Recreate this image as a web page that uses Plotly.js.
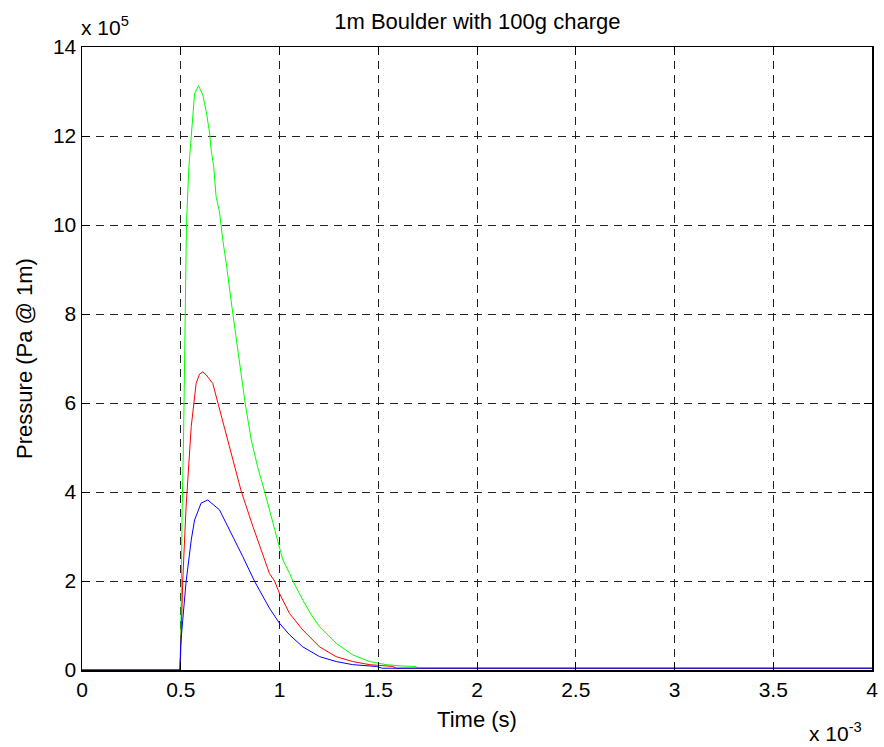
<!DOCTYPE html>
<html>
<head>
<meta charset="utf-8">
<script src="https://cdn.plot.ly/plotly-3.0.1.min.js"></script>
<style>html,body{margin:0;padding:0;background:#fff;}#chart{width:884px;height:747px;}</style>
</head>
<body>
<div id="chart"></div>
<script>
// Time in units of 1e-3 s, pressure in units of 1e5 Pa
const tGreen = [0, 0.495, 0.500, 0.502, 0.507, 0.514, 0.519, 0.529, 0.541, 0.553, 0.570, 0.590, 0.612, 0.629, 0.646, 0.654, 0.667, 0.679, 0.696, 0.713, 0.730, 0.764, 0.789, 0.826, 0.857, 0.890, 0.924, 0.983, 1.017, 1.051, 1.068, 1.118, 1.160, 1.203, 1.287, 1.371, 1.456, 1.540, 1.620, 1.692, 1.700, 4.0];
const pGreen = [0, 0, 0.6, 2.0, 3.6, 5.17, 7.19, 10.04, 11.3, 12.07, 12.95, 13.13, 12.92, 12.55, 12.07, 11.69, 11.31, 10.64, 10.30, 9.66, 9.15, 8.00, 7.19, 6.00, 5.17, 4.55, 4.02, 3.00, 2.47, 2.17, 2.00, 1.57, 1.25, 0.97, 0.60, 0.34, 0.19, 0.12, 0.09, 0.08, 0.04, 0.04];

const tRed = [0, 0.495, 0.499, 0.502, 0.510, 0.527, 0.541, 0.553, 0.578, 0.595, 0.612, 0.629, 0.662, 0.688, 0.738, 0.806, 0.865, 0.949, 0.975, 1.000, 1.051, 1.118, 1.203, 1.287, 1.371, 1.456, 1.574, 1.590, 4.0];
const pRed = [0, 0, 0.3, 0.8, 2.0, 3.67, 4.79, 5.47, 6.44, 6.65, 6.70, 6.63, 6.44, 6.00, 5.17, 4.02, 3.23, 2.17, 2.00, 1.72, 1.27, 0.90, 0.52, 0.30, 0.19, 0.12, 0.08, 0.04, 0.04];

const tBlue = [0, 0.495, 0.497, 0.499, 0.510, 0.527, 0.553, 0.570, 0.603, 0.637, 0.696, 0.764, 0.814, 0.873, 0.949, 1.000, 1.051, 1.118, 1.203, 1.287, 1.371, 1.490, 1.520, 4.0];
const pBlue = [0, 0, 0.05, 0.53, 1.12, 1.98, 2.92, 3.37, 3.75, 3.82, 3.60, 3.00, 2.55, 2.00, 1.39, 1.05, 0.79, 0.52, 0.30, 0.19, 0.12, 0.08, 0.04, 0.04];

const xTicks = [0, 0.5, 1, 1.5, 2, 2.5, 3, 3.5, 4];
const xTickText = ['0', '0.5', '1', '1.5', '2', '2.5', '3', '3.5', '4'];
const yTicks = [0, 2, 4, 6, 8, 10, 12, 14];
const yTickText = ['0', '2', '4', '6', '8', '10', '12', '14'];

const FONT = 'Liberation Sans, Arial, Helvetica, sans-serif';

const traces = [
  {x: tGreen, y: pGreen, mode: 'lines', line: {color: '#00ff00', width: 1}, name: 'green'},
  {x: tRed, y: pRed, mode: 'lines', line: {color: '#ff0000', width: 1}, name: 'red'},
  {x: tBlue, y: pBlue, mode: 'lines', line: {color: '#0000ff', width: 1}, name: 'blue'}
];

const axisCommon = {
  showline: true, linecolor: '#000', linewidth: 1.5, mirror: 'ticks',
  ticks: 'inside', ticklen: 8, tickcolor: '#000', tickwidth: 1,
  showgrid: true, gridcolor: '#222', gridwidth: 1, griddash: '8px,6px',
  zeroline: false, tickfont: {family: FONT, size: 21, color: '#000'}
};

const layout = {
  width: 884, height: 747,
  margin: {l: 82, r: 12, t: 47, b: 77},
  paper_bgcolor: '#fff', plot_bgcolor: '#fff',
  showlegend: false,
  title: {text: '1m Boulder with 100g charge', font: {family: FONT, size: 22, color: '#000'}, x: 0.54, xanchor: 'center', y: 0.972, yanchor: 'middle'},
  xaxis: Object.assign({}, axisCommon, {
    range: [0, 4], tickvals: xTicks, ticktext: xTickText,
    title: {text: 'Time (s)', font: {family: FONT, size: 22, color: '#000'}, standoff: 12}
  }),
  yaxis: Object.assign({}, axisCommon, {
    range: [0, 14], tickvals: yTicks, ticktext: yTickText,
    title: {text: 'Pressure (Pa @ 1m)', font: {family: FONT, size: 22, color: '#000'}, standoff: 14}
  }),
  annotations: [
    {text: 'x 10<sup>5</sup>', xref: 'paper', yref: 'paper', x: 0, y: 1, xanchor: 'left', yanchor: 'bottom', xshift: -3, yshift: 6, showarrow: false, font: {family: FONT, size: 21, color: '#000'}},
    {text: 'x 10<sup>-3</sup>', xref: 'paper', yref: 'paper', x: 1, y: 0, xanchor: 'right', yanchor: 'top', xshift: -8, yshift: -47, showarrow: false, font: {family: FONT, size: 21, color: '#000'}}
  ]
};

Plotly.newPlot('chart', traces, layout, {displayModeBar: false, staticPlot: true});
</script>
</body>
</html>
